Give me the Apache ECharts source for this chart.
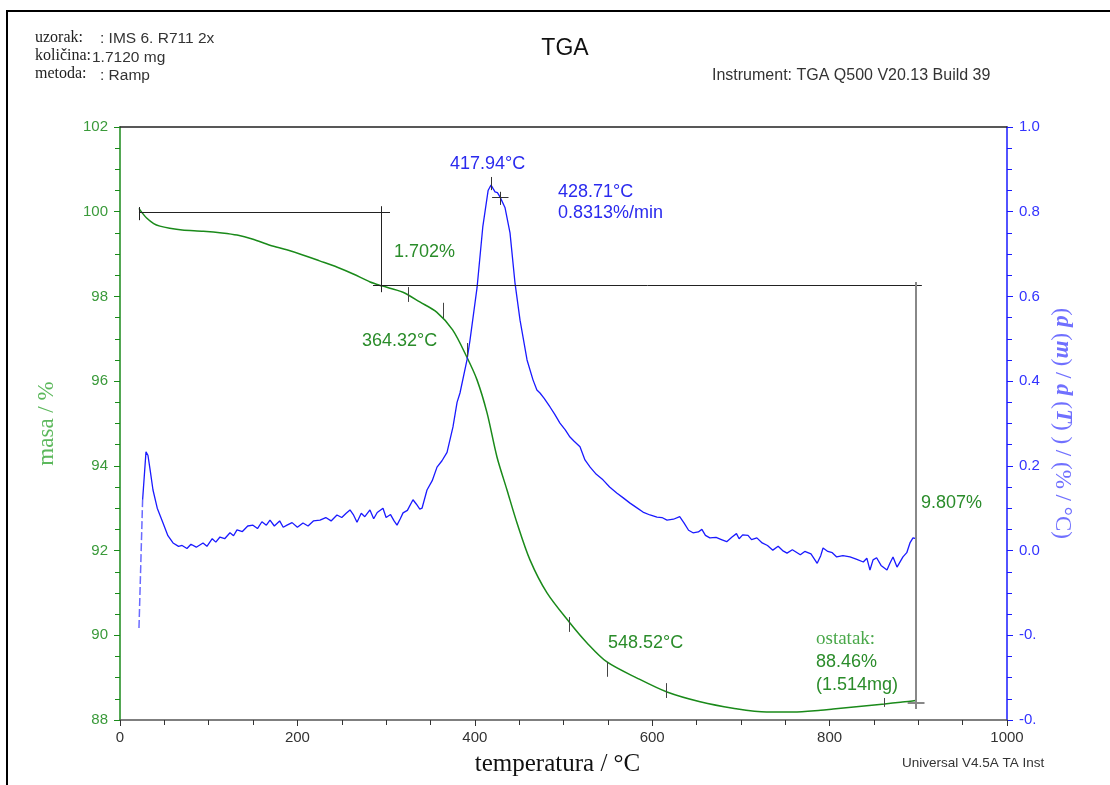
<!DOCTYPE html>
<html>
<head>
<meta charset="utf-8">
<title>TGA</title>
<script src="https://cdn.jsdelivr.net/npm/echarts/dist/echarts.min.js"></script>
<style>
  html, body { margin: 0; padding: 0; background: #fff; }
  #tga-chart { width: 1110px; height: 785px; }
</style>
</head>
<body>
<div id="tga-chart"></div>
<script>
// TGA curve: temperature (°C) / mass (%)
var tgaTemp = [21.4, 24, 30, 38, 45, 56, 70, 94, 115, 132, 150, 169, 188, 206, 225, 245, 263, 282, 295, 319,
    338, 357, 375, 391, 402.5, 413.8, 425, 436.3, 447.6, 462.2, 481.4, 507.3, 526.5, 549, 582.9, 616.7, 654,
    691, 729, 759, 790, 804, 833, 862, 880, 891, 897];
var tgaMass = [100.08, 100.0, 99.85, 99.72, 99.66, 99.61, 99.57, 99.54, 99.50, 99.45, 99.35, 99.21, 99.10,
    98.98, 98.84, 98.69, 98.53, 98.34, 98.25, 98.10, 97.87, 97.63, 97.21, 96.57, 96.03, 95.25, 94.21, 93.43,
    92.65, 91.78, 91.0, 90.29, 89.82, 89.37, 88.99, 88.66, 88.43, 88.28, 88.19, 88.19, 88.23, 88.26, 88.32,
    88.38, 88.42, 88.44, 88.46];

// DTG curve: temperature (°C) / d(m)/d(T)
var dtgStartTemp = [21.4, 25.5];
var dtgStartRate = [-0.183, 0.12];
var dtgTemp = [25.5, 29.3, 31.5, 34, 37.2, 42, 48.5, 54, 59.8, 66, 70, 75.5, 80, 86, 93.6, 98, 104, 108, 112.7,
    118, 124, 128, 131.9, 138, 144, 149.9, 155, 160, 165, 169.1, 174, 180, 184, 188.3, 194, 200, 206.3, 212,
    218, 225.5, 232, 238, 244.6, 250, 255, 259.3, 263, 267.2, 272, 276, 281.8, 286, 290, 296.5, 300, 305, 309,
    312.3, 316, 319.1, 324, 330.3, 334, 338, 340.5, 346.1, 352, 357.4, 363, 368.7, 375.4, 380, 383.3, 391.2,
    394.6, 402.5, 409, 415, 418.3, 420.5, 422.8, 425.5, 428.4, 434, 439.7, 445.3, 451, 458.9, 465.6, 470,
    473.5, 478, 484.8, 490, 496, 502, 507.3, 512, 518.6, 524.2, 530, 537, 544.5, 552, 560, 567, 575, 582,
    589.6, 597.5, 605.4, 611, 616.7, 624, 631, 636, 641, 646, 652, 656, 660, 665, 672, 678, 684, 690, 695,
    698, 702, 708, 712, 718, 724, 730, 736, 742, 747, 752, 758, 767, 772, 779, 786, 790, 792.6, 798, 803,
    808, 815, 823, 830, 838, 842, 845.5, 849, 853, 858, 864.7, 868, 871.5, 876, 882.7, 887, 890.6, 894, 897.4];
var dtgRate = [0.12, 0.233, 0.225, 0.19, 0.143, 0.10, 0.065, 0.035, 0.018, 0.01, 0.012, 0.005, 0.015, 0.008,
    0.018, 0.010, 0.028, 0.02, 0.032, 0.028, 0.042, 0.035, 0.049, 0.045, 0.058, 0.060, 0.052, 0.068, 0.06,
    0.072, 0.058, 0.07, 0.055, 0.060, 0.066, 0.055, 0.065, 0.058, 0.070, 0.072, 0.078, 0.07, 0.084, 0.078,
    0.088, 0.096, 0.085, 0.067, 0.088, 0.080, 0.096, 0.075, 0.09, 0.10, 0.078, 0.085, 0.07, 0.06, 0.075,
    0.089, 0.095, 0.12, 0.11, 0.098, 0.10, 0.143, 0.165, 0.197, 0.212, 0.232, 0.292, 0.35, 0.372, 0.45,
    0.497, 0.62, 0.764, 0.85, 0.863, 0.855, 0.847, 0.845, 0.835, 0.81, 0.75, 0.632, 0.544, 0.45, 0.403,
    0.379, 0.372, 0.36, 0.339, 0.322, 0.301, 0.285, 0.268, 0.258, 0.245, 0.214, 0.197, 0.180, 0.167, 0.150,
    0.136, 0.125, 0.112, 0.102, 0.091, 0.084, 0.079, 0.078, 0.072, 0.074, 0.08, 0.065, 0.048, 0.042, 0.044,
    0.050, 0.036, 0.030, 0.031, 0.026, 0.021, 0.032, 0.04, 0.028, 0.037, 0.036, 0.026, 0.030, 0.018, 0.012,
    0.001, 0.010, 0.0, -0.006, 0.002, -0.01, -0.002, -0.008, -0.03, -0.012, 0.006, -0.002, -0.005, -0.015,
    -0.012, -0.015, -0.020, -0.027, -0.018, -0.046, -0.022, -0.017, -0.035, -0.046, -0.03, -0.015, -0.039,
    -0.015, -0.005, 0.018, 0.030, 0.028];

// step analysis lines (mass axis)
var stepLines = [
    [[21.4, 99.99], [304.4, 99.99]],
    [[295, 100.13], [295, 98.10]],
    [[285.2, 98.27], [904, 98.27]],
    [[21.4, 100.11], [21.4, 99.80]]
];
var residueLines = [
    [[897.4, 98.34], [897.4, 88.26]],
    [[888, 88.40], [907, 88.40]]
];
// small markers on the mass curve
var massTicks = [
    [325, 98.22, 97.87],
    [364, 97.85, 97.49],
    [392, 96.90, 96.57],
    [507, 90.43, 90.08],
    [549, 89.37, 89.02],
    [616, 88.87, 88.52],
    [862, 88.52, 88.31]
];
// peak markers on the derivative curve
var peakLines = [
    [[418.3, 0.882], [418.3, 0.851]],
    [[419.5, 0.835], [438, 0.835]],
    [[428.7, 0.847], [428.7, 0.816]]
];

function zip(a, b) {
    var out = [];
    for (var i = 0; i < a.length; i++) out.push([a[i], b[i]]);
    return out;
}

function pairs(list, color, width) {
    return list.map(function (p) {
        return [
            { coord: p[0], lineStyle: { color: color, width: width, type: 'solid' } },
            { coord: p[1] }
        ];
    });
}

var sans = 'Liberation Sans, Arial, sans-serif';
var serif = 'Liberation Serif, Times New Roman, serif';
var green = '#1a8a1a';
var textGreen = '#2a8c2a';
var blue = '#1a1aff';

var chart = echarts.init(document.getElementById('tga-chart'), null, { renderer: 'canvas' });

var massTickLines = massTicks.map(function (t) {
    return [
        { coord: [t[0], t[1]], lineStyle: { color: '#444', width: 1, type: 'solid' } },
        { coord: [t[0], t[2]] }
    ];
});

var option = {
    animation: false,
    backgroundColor: '#fff',
    title: {
        text: 'TGA',
        left: 560,
        top: 32,
        textAlign: 'center',
        textStyle: { fontFamily: sans, fontSize: 23, fontWeight: 'normal', color: '#111' }
    },
    grid: { left: 120, right: 103, top: 127, bottom: 65 },
    xAxis: [{
        type: 'value',
        min: 0,
        max: 1000,
        interval: 200,
        position: 'bottom',
        name: 'temperatura / °C',
        nameLocation: 'middle',
        nameGap: 32,
        nameTextStyle: { fontFamily: serif, fontSize: 25, color: '#111', padding: [0, 12, 0, 0] },
        axisLine: { onZero: false, lineStyle: { color: '#555', width: 1.5 } },
        axisTick: { inside: false, length: 6, lineStyle: { color: '#333' } },
        minorTick: { show: true, splitNumber: 4, length: 5, lineStyle: { color: '#333' } },
        splitLine: { show: false },
        axisLabel: {
            margin: 10,
            fontFamily: sans,
            fontSize: 15,
            color: '#333',
            formatter: function (v) { return String(v); }
        }
    }, {
        type: 'value',
        min: 0,
        max: 1000,
        position: 'top',
        axisLine: { show: true, onZero: false, lineStyle: { color: '#222', width: 1.5 } },
        axisTick: { show: false },
        axisLabel: { show: false },
        splitLine: { show: false }
    }],
    yAxis: [{
        type: 'value',
        min: 88,
        max: 102,
        interval: 2,
        position: 'left',
        name: 'masa / %',
        nameLocation: 'middle',
        nameRotate: 90,
        nameGap: 62,
        nameTextStyle: { fontFamily: serif, fontSize: 23, color: '#5cb85c' },
        axisLine: { show: true, onZero: false, lineStyle: { color: green, width: 1.5 } },
        axisTick: { inside: false, length: 6, lineStyle: { color: green } },
        minorTick: { show: true, splitNumber: 4, length: 5, lineStyle: { color: green } },
        splitLine: { show: false },
        axisLabel: { margin: 12, fontFamily: sans, fontSize: 15, color: '#3a9a3a' }
    }, {
        type: 'value',
        min: -0.4,
        max: 1.0,
        interval: 0.2,
        position: 'right',
        name: '{p|(}{v|d}{p| (}{v|m}{p|) / }{v|d}{p| (}{v|T}{p|) ) / (% / °C)}',
        nameLocation: 'middle',
        nameRotate: -90,
        nameGap: 44,
        nameTextStyle: {
            fontFamily: serif,
            fontSize: 23,
            color: '#7070ff',
            rich: {
                p: { fontFamily: serif, fontSize: 23, color: '#7070ff' },
                v: { fontFamily: serif, fontSize: 23, color: '#7070ff', fontStyle: 'italic', fontWeight: 'bold' }
            }
        },
        axisLine: { show: true, onZero: false, lineStyle: { color: blue, width: 1.5 } },
        axisTick: { inside: false, length: 6, lineStyle: { color: blue } },
        minorTick: { show: true, splitNumber: 4, length: 5, lineStyle: { color: blue } },
        splitLine: { show: false },
        axisLabel: {
            margin: 12,
            fontFamily: sans,
            fontSize: 15,
            color: '#3333ff',
            width: 25,
            overflow: 'truncate',
            ellipsis: '',
            formatter: function (v) { return v.toFixed(1); }
        }
    }],
    series: [{
        name: 'masa',
        type: 'line',
        xAxisIndex: 0,
        yAxisIndex: 0,
        data: zip(tgaTemp, tgaMass),
        smooth: 0.3,
        showSymbol: false,
        lineStyle: { color: green, width: 1.5 },
        z: 3,
        markLine: {
            silent: true,
            symbol: ['none', 'none'],
            label: { show: false },
            data: pairs(stepLines, '#222', 1)
                .concat(pairs(residueLines, '#888', 2))
                .concat(massTickLines)
        }
    }, {
        name: 'dtg start',
        type: 'line',
        xAxisIndex: 0,
        yAxisIndex: 1,
        data: zip(dtgStartTemp, dtgStartRate),
        showSymbol: false,
        lineStyle: { color: '#6a6aff', width: 1.5, type: [8, 3] }
    }, {
        name: 'dtg',
        type: 'line',
        xAxisIndex: 0,
        yAxisIndex: 1,
        data: zip(dtgTemp, dtgRate),
        showSymbol: false,
        lineStyle: { color: blue, width: 1.3 },
        z: 4,
        markLine: {
            silent: true,
            symbol: ['none', 'none'],
            label: { show: false },
            data: pairs(peakLines, '#333', 1)
        }
    }],
    graphic: [
        // page frame
        { type: 'rect', shape: { x: 7, y: 11, width: 1300, height: 900 },
          style: { fill: 'none', stroke: '#000', lineWidth: 2 }, z: -1 },
        // sample header
        { type: 'text', x: 35, y: 38, style: { text: 'uzorak:', font: '16px ' + serif, fill: '#222', verticalAlign: 'middle' } },
        { type: 'text', x: 100, y: 39, style: { text: ': IMS 6. R711 2x', font: '15.5px ' + sans, fill: '#333', verticalAlign: 'middle' } },
        { type: 'text', x: 35, y: 56, style: { text: 'količina:', font: '16px ' + serif, fill: '#222', verticalAlign: 'middle' } },
        { type: 'text', x: 92, y: 58, style: { text: '1.7120 mg', font: '15.5px ' + sans, fill: '#333', verticalAlign: 'middle' } },
        { type: 'text', x: 35, y: 74, style: { text: 'metoda:', font: '16px ' + serif, fill: '#222', verticalAlign: 'middle' } },
        { type: 'text', x: 100, y: 76, style: { text: ': Ramp', font: '15.5px ' + sans, fill: '#333', verticalAlign: 'middle' } },
        { type: 'text', x: 712, y: 76, style: { text: 'Instrument: TGA Q500 V20.13 Build 39', font: '16px ' + sans, fill: '#333', verticalAlign: 'middle' } },
        { type: 'text', x: 902, y: 763, style: { text: 'Universal V4.5A TA Inst', font: '13.5px ' + sans, fill: '#333', verticalAlign: 'middle' } },
        // annotations
        { type: 'text', x: 394, y: 252, style: { text: '1.702%', font: '18px ' + sans, fill: textGreen, verticalAlign: 'middle' } },
        { type: 'text', x: 362, y: 341, style: { text: '364.32°C', font: '18px ' + sans, fill: textGreen, verticalAlign: 'middle' } },
        { type: 'text', x: 608, y: 643, style: { text: '548.52°C', font: '18px ' + sans, fill: textGreen, verticalAlign: 'middle' } },
        { type: 'text', x: 921, y: 503, style: { text: '9.807%', font: '18px ' + sans, fill: textGreen, verticalAlign: 'middle' } },
        { type: 'text', x: 816, y: 639, style: { text: 'ostatak:', font: '19px ' + serif, fill: '#4aa84a', verticalAlign: 'middle' } },
        { type: 'text', x: 816, y: 662, style: { text: '88.46%', font: '18px ' + sans, fill: textGreen, verticalAlign: 'middle' } },
        { type: 'text', x: 816, y: 685, style: { text: '(1.514mg)', font: '18px ' + sans, fill: textGreen, verticalAlign: 'middle' } },
        { type: 'text', x: 450, y: 164, style: { text: '417.94°C', font: '18px ' + sans, fill: '#2a2aee', verticalAlign: 'middle' } },
        { type: 'text', x: 558, y: 192, style: { text: '428.71°C', font: '18px ' + sans, fill: '#2a2aee', verticalAlign: 'middle' } },
        { type: 'text', x: 558, y: 213, style: { text: '0.8313%/min', font: '18px ' + sans, fill: '#2a2aee', verticalAlign: 'middle' } }
    ]
};

chart.setOption(option);
</script>
</body>
</html>
